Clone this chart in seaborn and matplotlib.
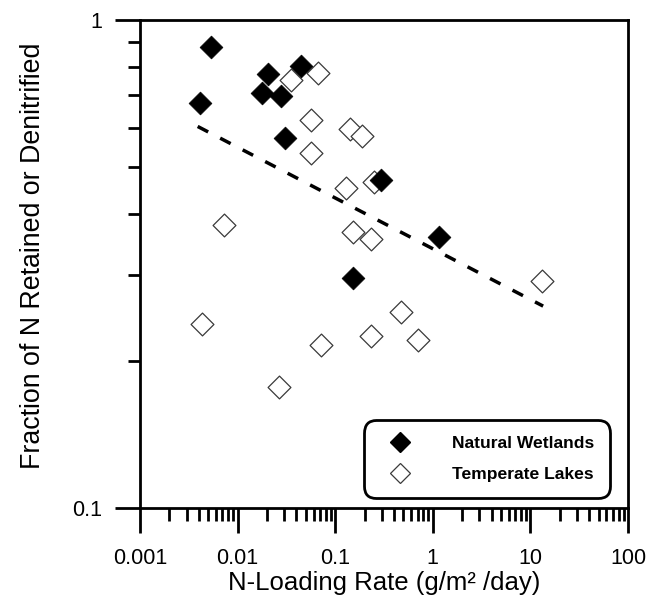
import matplotlib
matplotlib.use("Agg")
import matplotlib.pyplot as plt
import seaborn as sns
import pandas as pd
import numpy as np
from matplotlib.ticker import LogLocator, NullFormatter
from matplotlib.lines import Line2D

# ---- data ----
wet_x = [0.0053, 0.0041, 0.0203, 0.0179, 0.0276, 0.0443, 0.0306, 0.294, 1.17, 0.151]
wet_y = [0.878, 0.676, 0.774, 0.707, 0.697, 0.805, 0.573, 0.470, 0.359, 0.296]

lake_x = [0.035, 0.0671, 0.0565, 0.0565, 0.142, 0.187, 0.129, 0.25, 0.151, 0.233,
          0.0073, 0.00429, 0.0716, 0.0264, 0.469, 0.233, 0.711, 13.2]
lake_y = [0.753, 0.777, 0.622, 0.534, 0.598, 0.577, 0.452, 0.465, 0.367, 0.356,
          0.380, 0.238, 0.216, 0.177, 0.252, 0.225, 0.221, 0.291]

fit_x = [0.0039, 13.5]
fit_y = [0.604, 0.259]

x_ticks = [0.001, 0.01, 0.1, 1, 10, 100]
x_labels = ["0.001", "0.01", "0.1", "1", "10", "100"]
y_ticks = [0.1, 1]
y_labels = ["0.1", "1"]

series_names = ["Natural Wetlands", "Temperate Lakes"]

# ---- style ----
sns.set_style("ticks")
plt.rcParams["font.family"] = ["Liberation Sans", "DejaVu Sans"]
plt.rcParams["text.color"] = "black"
plt.rcParams["axes.labelcolor"] = "black"
plt.rcParams["xtick.color"] = "black"
plt.rcParams["ytick.color"] = "black"

fig = plt.figure(figsize=(6.49, 6.01), dpi=100)
ax = fig.add_axes([140/649, 1 - 508/601, 488/649, (508 - 19.5)/601])

wet = pd.DataFrame({"x": wet_x, "y": wet_y})
lake = pd.DataFrame({"x": lake_x, "y": lake_y})
fit = pd.DataFrame({"x": fit_x, "y": fit_y})

ax.set_xscale("log")
ax.set_yscale("log")

sns.lineplot(data=fit, x="x", y="y", ax=ax, color="black", lw=2.5,
             dashes=False, zorder=1)
ax.lines[-1].set_dashes((3.4, 3.9))

sns.scatterplot(data=lake, x="x", y="y", ax=ax, marker="D", s=135,
                facecolor="white", edgecolor="#3a3a3a", linewidth=0.9, zorder=2)
sns.scatterplot(data=wet, x="x", y="y", ax=ax, marker="D", s=135,
                color="black", edgecolor="black", linewidth=0.5, zorder=3)

ax.set_xlim(0.001, 100)
ax.set_ylim(0.1, 1)

ax.set_xticks(x_ticks)
ax.set_xticklabels(x_labels)
ax.set_yticks(y_ticks)
ax.set_yticklabels(y_labels)
ax.xaxis.set_minor_locator(LogLocator(base=10, subs=np.arange(2, 10), numticks=20))
ax.yaxis.set_minor_locator(LogLocator(base=10, subs=np.arange(2, 10), numticks=20))
ax.xaxis.set_minor_formatter(NullFormatter())
ax.yaxis.set_minor_formatter(NullFormatter())

ax.tick_params(axis="both", which="major", direction="out", length=18, width=2.0,
               labelsize=15.5, color="black", labelcolor="black")
ax.tick_params(axis="x", which="major", pad=11)
ax.tick_params(axis="y", which="major", pad=9)
ax.tick_params(axis="both", which="minor", direction="out", length=9, width=2.0,
               color="black")
ax.tick_params(top=False, right=False, which="both")

for sp in ax.spines.values():
    sp.set_visible(True)
    sp.set_linewidth(2.0)
    sp.set_color("black")

ax.set_xlabel("N-Loading Rate (g/m² /day)", fontsize=18.5, labelpad=1, color="black")
ax.set_ylabel("Fraction of N Retained or Denitrified", fontsize=19.3, color="black")
ax.yaxis.set_label_coords(-0.192, 0.516)

handles = [
    Line2D([], [], ls="none", marker="D", markersize=10.5, markerfacecolor="black",
           markeredgecolor="black"),
    Line2D([], [], ls="none", marker="D", markersize=10.5, markerfacecolor="white",
           markeredgecolor="#3a3a3a", markeredgewidth=0.9),
]
leg = ax.legend(handles, series_names, loc="lower right",
                bbox_to_anchor=(0.963, 0.0204), frameon=True, fancybox=True,
                prop={"weight": "bold", "size": 12.6}, borderpad=0.9,
                handlelength=2.4, handletextpad=1.75, labelspacing=0.9,
                borderaxespad=0)
for t in leg.get_texts():
    t.set_color("black")
frame = leg.get_frame()
frame.set_edgecolor("black")
frame.set_linewidth(2.0)
frame.set_facecolor("white")
frame.set_alpha(1)
frame.set_boxstyle("round,pad=0,rounding_size=0.7")

fig.savefig("out.png", dpi=100)
